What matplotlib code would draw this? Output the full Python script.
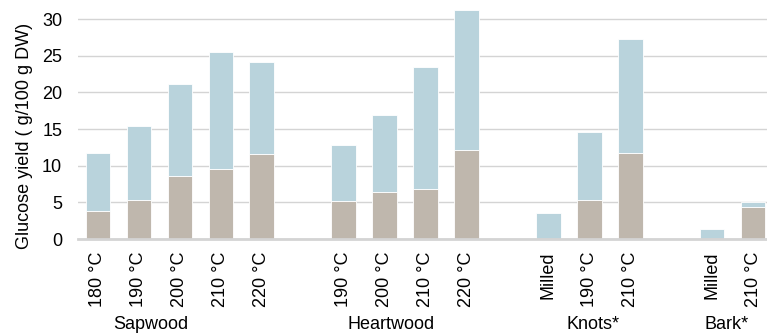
import numpy as np
import matplotlib.pyplot as plt

plt.rcParams['font.family'] = ['Liberation Sans', 'DejaVu Sans']

# bar labels per group and glucose yields (g/100 g DW)
groups = ['Sapwood', 'Heartwood', 'Knots*', 'Bark*']
labels = [
    ['180 °C', '190 °C', '200 °C', '210 °C', '220 °C'],
    ['190 °C', '200 °C', '210 °C', '220 °C'],
    ['Milled', '190 °C', '210 °C'],
    ['Milled', '210 °C'],
]
total_yield = [
    [11.7, 15.45, 21.2, 25.5, 24.2],
    [12.8, 16.95, 23.45, 31.2],
    [3.6, 14.6, 27.3],
    [1.3, 5.1],
]
lower_yield = [
    [3.8, 5.3, 8.6, 9.5, 11.6],
    [5.2, 6.4, 6.8, 12.1],
    [0.0, 5.3, 11.7],
    [0.0, 4.3],
]

blue = '#b9d3dc'
brown = '#bfb7ad'
fs = 13

fig = plt.figure(figsize=(7.67, 3.34), dpi=100)
ax = fig.add_axes([77.5 / 767, 1 - 239 / 334, 1 - 77.5 / 767, 239 / 334])

pos = []
tick_labels = []
tot = []
low = []
x = 0
for labs, t, l in zip(labels, total_yield, lower_yield):
    pos += list(range(x, x + len(labs)))
    tick_labels += labs
    tot += t
    low += l
    x += len(labs) + 1

pos = np.array(pos)
tot = np.array(tot)
low = np.array(low)

ax.bar(pos, low, width=0.6, color=brown, edgecolor='white', linewidth=0.6, zorder=3)
ax.bar(pos, tot - low, bottom=low, width=0.6, color=blue, edgecolor='white',
       linewidth=0.6, zorder=3)

ax.set_ylim(0, 32.6)
ax.set_xlim(-0.5, 16.34)
ax.set_yticks(range(0, 31, 5))
ax.yaxis.grid(True, color='#d4d4d4', linewidth=1)
ax.set_axisbelow(True)
ax.set_xticks(pos)
ax.set_xticklabels(tick_labels, rotation=90, fontsize=fs)
ax.tick_params(axis='x', length=0, pad=9)
ax.tick_params(axis='y', length=0, pad=11, labelsize=fs)
for s in ['top', 'right', 'left']:
    ax.spines[s].set_visible(False)
ax.spines['bottom'].set_color('#d4d4d4')
ax.spines['bottom'].set_linewidth(2)
ax.spines['bottom'].set_zorder(4)

ax.set_ylabel('Glucose yield ( g/100 g DW)', fontsize=fs)
ax.yaxis.set_label_coords(-0.065, 0.43)

# group captions under the tick labels
caption_x = [1.3, 7.15, 12.1, 15.35]
for cx, g in zip(caption_x, groups):
    ax.text(cx, -0.356, g, transform=ax.get_xaxis_transform(), ha='center',
            va='center', fontsize=fs)

fig.savefig('out.png', dpi=100)
